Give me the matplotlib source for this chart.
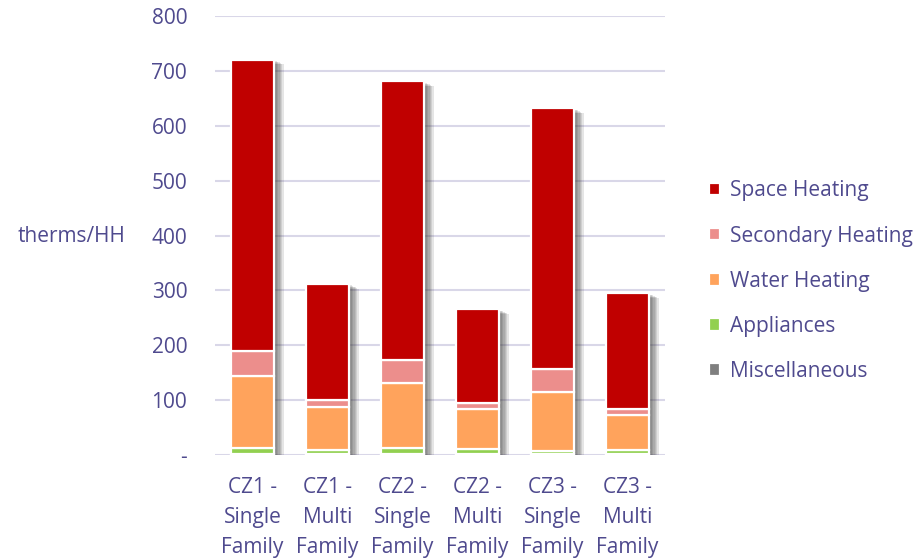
import numpy as np
import matplotlib.pyplot as plt
import matplotlib.patheffects as pe

plt.rcParams['font.family'] = ['Open Sans', 'DejaVu Sans']

# values (therms per household)
categories = ["CZ1 -\nSingle\nFamily", "CZ1 -\nMulti\nFamily",
              "CZ2 -\nSingle\nFamily", "CZ2 -\nMulti\nFamily",
              "CZ3 -\nSingle\nFamily", "CZ3 -\nMulti\nFamily"]
miscellaneous = [2, 2, 2, 2, 2, 2]
appliances = [11, 7, 10, 9, 6, 7]
water_heating = [131, 78, 120, 72, 107, 64]
secondary_heating = [46, 14, 42, 12, 41, 10]
space_heating = [531, 211, 507, 171, 476, 212]

series = [
    ("Miscellaneous", miscellaneous, "#7F7F7F"),
    ("Appliances", appliances, "#92D050"),
    ("Water Heating", water_heating, "#FFA35C"),
    ("Secondary Heating", secondary_heating, "#EC8E8C"),
    ("Space Heating", space_heating, "#C00000"),
]

txt = "#4F4A8E"
grid = "#D9D7E8"
fs = 15

fig = plt.figure(figsize=(9.13, 5.59), dpi=100)
ax = fig.add_axes([0.2355, 0.186, 0.4929, 0.785])

x = np.arange(len(categories))
w = 0.575

# soft shadow behind each full stack (several faint offset copies)
totals = np.sum([s[1] for s in series], axis=0)
shadow = ax.bar(x, totals, w, color="white", zorder=2)
effects = [pe.SimplePatchShadow(offset=(k, -0.5 * k), shadow_rgbFace="#303030", alpha=0.12)
           for k in range(1, 8)]
for p in shadow:
    p.set_path_effects(effects + [pe.Normal()])

bottom = np.zeros(len(categories))
handles = {}
for name, vals, col in series:
    b = ax.bar(x, vals, w, bottom=bottom, color=col, edgecolor="white", linewidth=1.6, zorder=3)
    handles[name] = b
    bottom += np.array(vals)

ax.set_xlim(-0.5, 5.5)
ax.set_ylim(0, 800)
ax.set_yticks(range(0, 801, 100))
ax.set_yticklabels(["-"] + [str(v) for v in range(100, 801, 100)])
ax.yaxis.grid(True, color=grid, linewidth=1.5, zorder=0)
ax.set_axisbelow(True)
for s in ax.spines.values():
    s.set_visible(False)
ax.tick_params(axis='both', length=0, colors=txt, labelsize=fs)
ax.tick_params(axis='y', pad=20)
ax.tick_params(axis='x', pad=16)
ax.set_xticks(x)
ax.set_xticklabels(categories, linespacing=1.55)
fig.text(72 / 913, 1 - 237 / 559, "therms/HH", color=txt, fontsize=fs, ha="center", va="center")

order = ["Space Heating", "Secondary Heating", "Water Heating", "Appliances", "Miscellaneous"]
leg = fig.legend([handles[n] for n in order], order, loc="center left",
                 bbox_to_anchor=(0.756, 0.497), frameon=False, fontsize=fs,
                 handlelength=0.55, handleheight=0.55, handletextpad=0.45,
                 labelspacing=1.16, labelcolor=txt)

fig.savefig("out.png", dpi=100)
